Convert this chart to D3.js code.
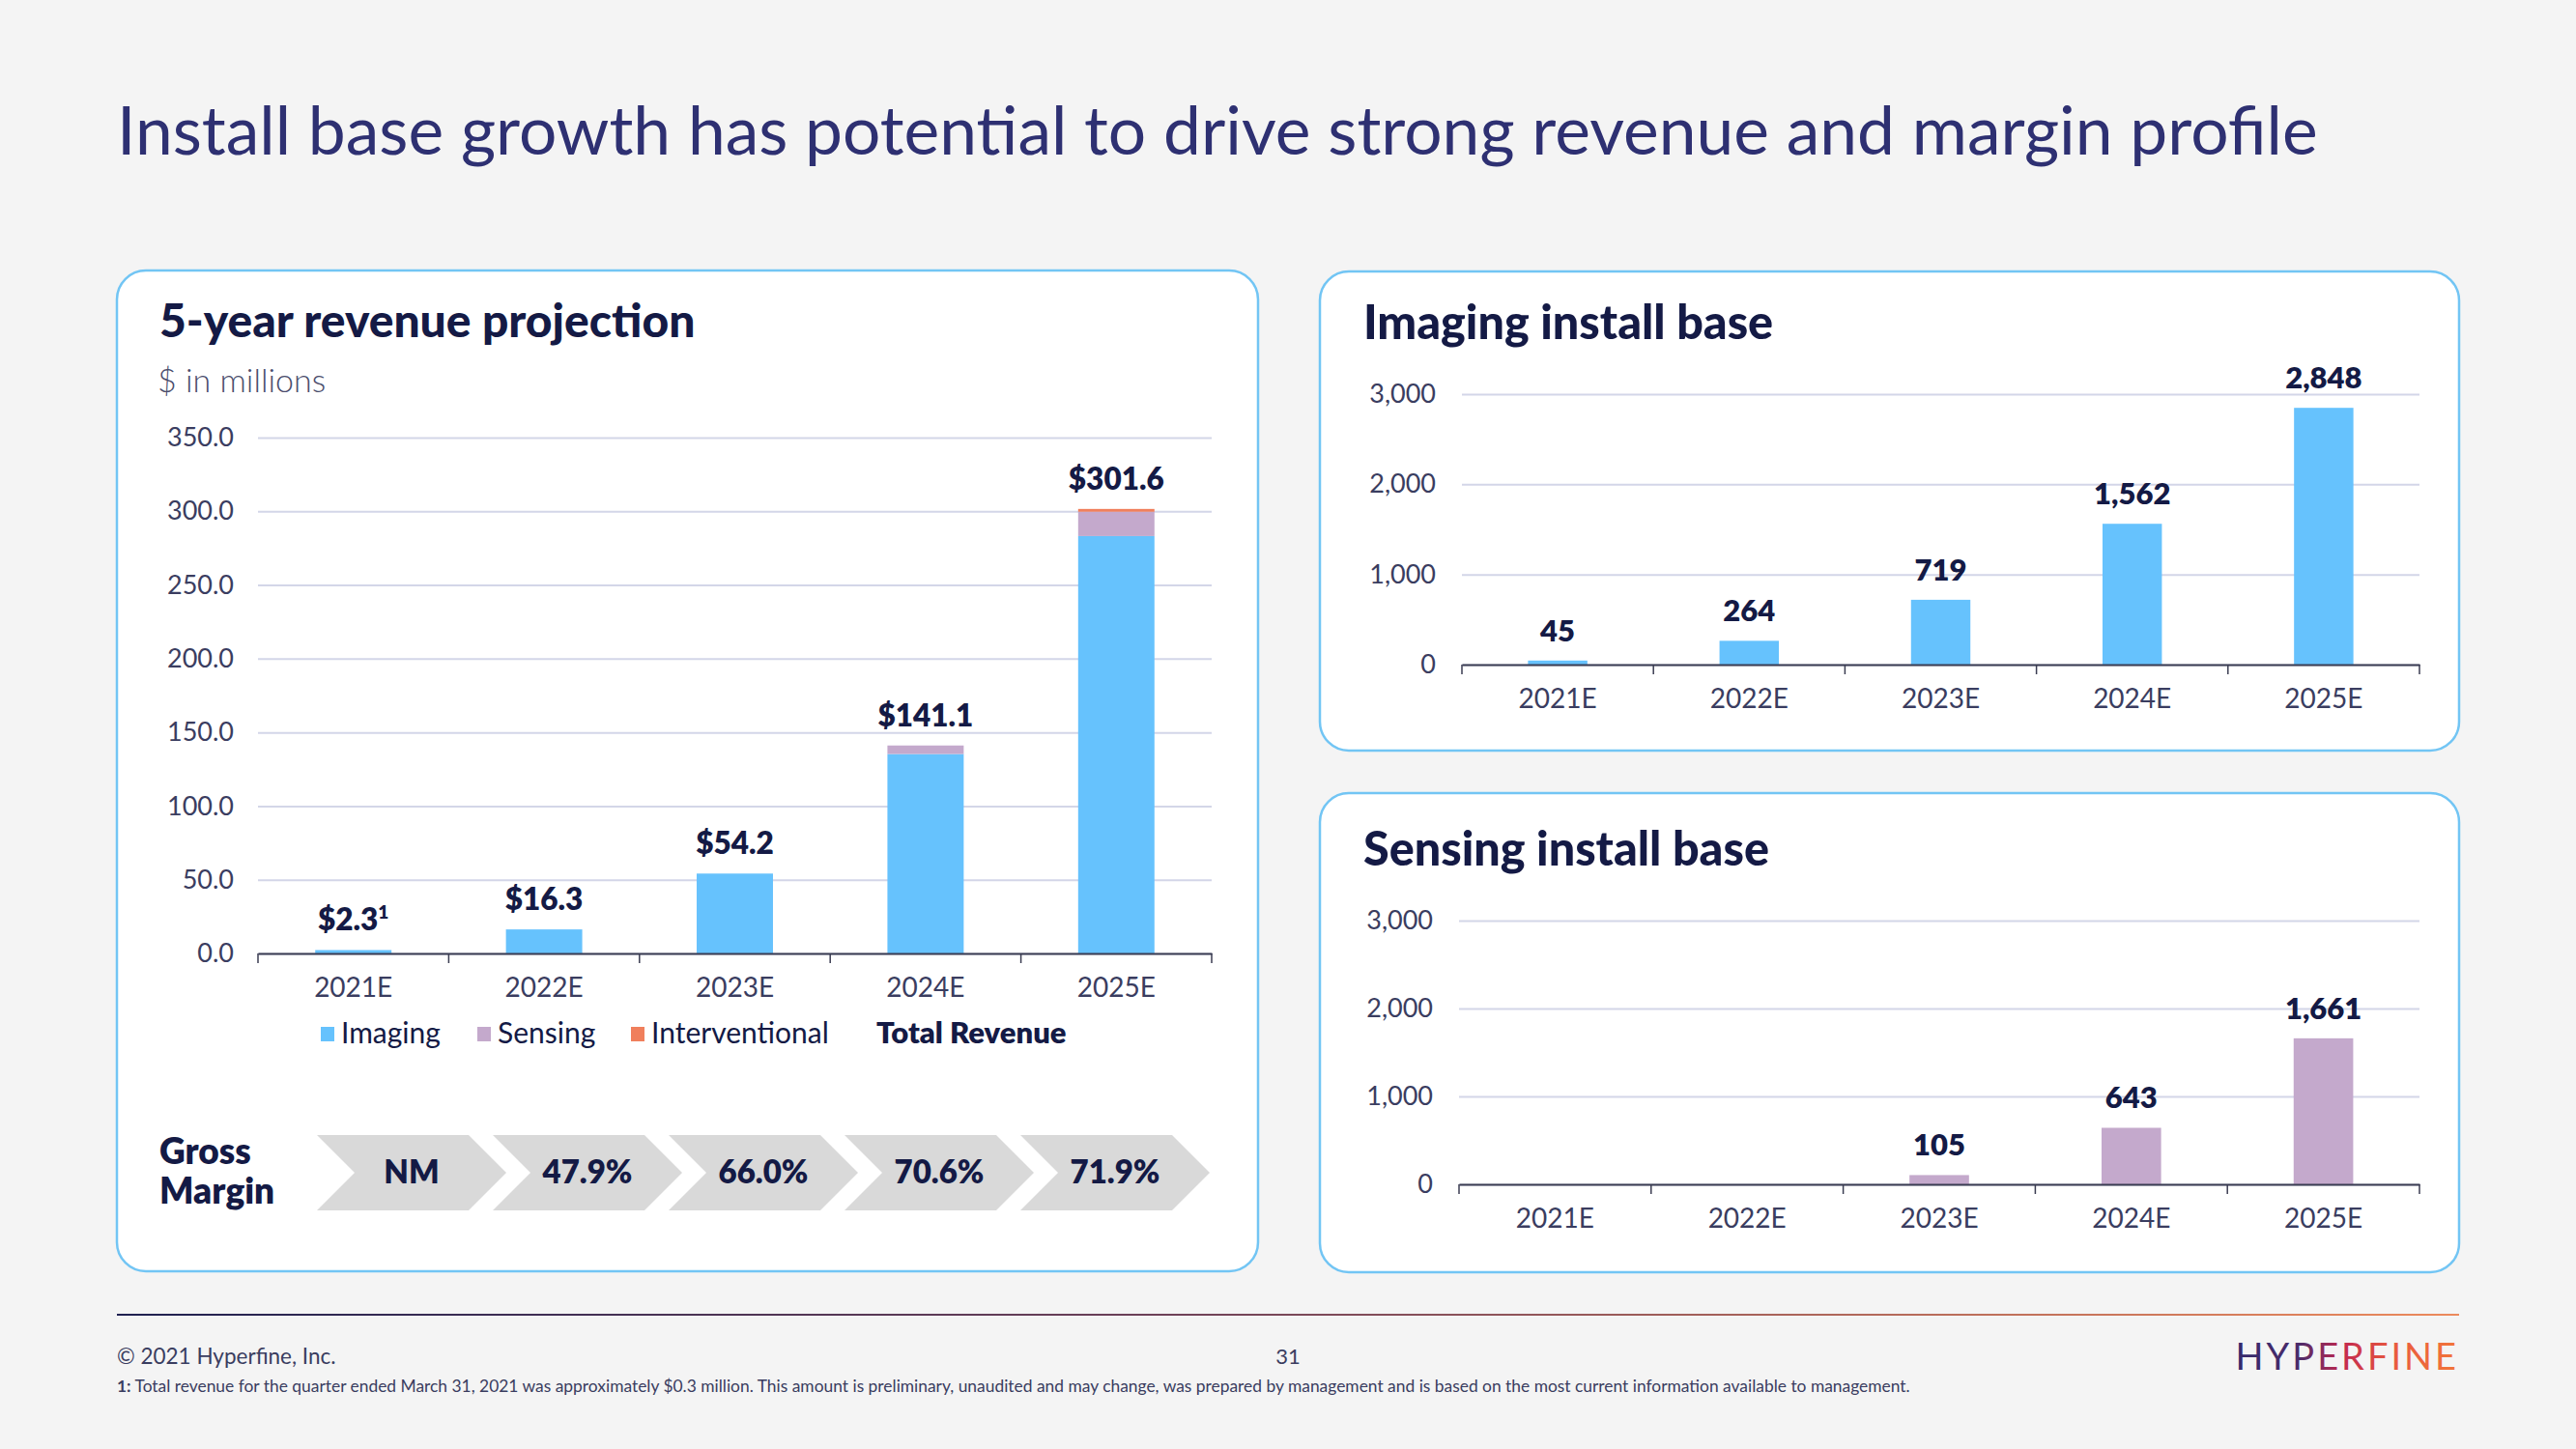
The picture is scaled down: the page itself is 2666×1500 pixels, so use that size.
<!DOCTYPE html>
<html><head><meta charset="utf-8">
<script src="https://cdn.jsdelivr.net/npm/d3@7"></script>
<style>
html,body{margin:0;padding:0;background:#f4f4f4;}
svg{display:block;font-family:Lato,"Noto Sans",sans-serif;}
</style></head>
<body>
<svg id="c" width="2666" height="1500"></svg>
<script>
// ---------- data ----------
const years = ["2021E","2022E","2023E","2024E","2025E"];
const imagingRev = [2.3, 16.3, 54.2, 135.3, 283.2];
const sensingRev = [0, 0, 0, 5.8, 16.5];
const interventionalRev = [0, 0, 0, 0, 1.9];
const totalRevLabels = ["$2.3", "$16.3", "$54.2", "$141.1", "$301.6"];
const totalRevNote = ["1", "", "", "", ""];
const revTicks = [0, 50, 100, 150, 200, 250, 300, 350];
const grossMargin = ["NM", "47.9%", "66.0%", "70.6%", "71.9%"];
const imagingBase = [45, 264, 719, 1562, 2848];
const sensingBase = [0, 0, 105, 643, 1661];
const baseTicks = [0, 1000, 2000, 3000];
const legendItems = ["Imaging", "Sensing", "Interventional"];

// ---------- styles ----------
const C = {
  bg: "#f4f4f4", card: "#ffffff", cardStroke: "#72c5f4",
  imaging: "#66c2fd", sensing: "#c4a9cc", interventional: "#f07f5c",
  navy: "#141a45", title: "#2e3072", tick: "#3a3d60", grid: "#d3d6e8",
  chevron: "#d9d9d9"
};

const svg = d3.select("#c");
svg.append("rect").attr("width", 2666).attr("height", 1500).attr("fill", C.bg);

const defs = svg.append("defs");
const lg = defs.append("linearGradient").attr("id", "footLine").attr("x1", "0%").attr("x2", "100%");
lg.append("stop").attr("offset", "0%").attr("stop-color", "#1f2150");
lg.append("stop").attr("offset", "45%").attr("stop-color", "#6e4158");
lg.append("stop").attr("offset", "100%").attr("stop-color", "#ec8a5c");
const lg2 = defs.append("linearGradient").attr("id", "logoGrad").attr("x1", "0%").attr("x2", "100%");
lg2.append("stop").attr("offset", "0%").attr("stop-color", "#35296b");
lg2.append("stop").attr("offset", "28%").attr("stop-color", "#4a2b6a");
lg2.append("stop").attr("offset", "48%").attr("stop-color", "#c2294f");
lg2.append("stop").attr("offset", "70%").attr("stop-color", "#e8593e");
lg2.append("stop").attr("offset", "100%").attr("stop-color", "#f2763a");

// main title
svg.append("text").attr("x", 121).attr("y", 160)
  .attr("font-size", 69.5).attr("font-weight", 400).attr("fill", C.title)
  .text("Install base growth has potential to drive strong revenue and margin profile");

// cards
function card(x, y, w, h) {
  svg.append("rect").attr("x", x).attr("y", y).attr("width", w).attr("height", h)
    .attr("rx", 30).attr("ry", 30).attr("fill", C.card)
    .attr("stroke", C.cardStroke).attr("stroke-width", 2.5);
}
card(121, 280, 1181, 1036);
card(1366, 281, 1179, 496);
card(1366, 821, 1179, 496);

// ---------- left: revenue chart ----------
svg.append("text").attr("x", 165).attr("y", 349).attr("font-size", 48).attr("font-weight", 900)
  .attr("fill", C.navy).text("5-year revenue projection");
svg.append("text").attr("x", 163).attr("y", 406).attr("font-size", 34).attr("font-weight", 300)
  .attr("fill", "#4a4d6c").text("$ in millions");

const xL = d3.scaleBand().domain(years).range([267, 1254]).paddingInner(0.6).paddingOuter(0.3);
const yL = d3.scaleLinear().domain([0, 350]).range([987, 453]);

// grid
const gGridL = svg.append("g").attr("transform", "translate(267,0)")
  .call(d3.axisLeft(yL).tickValues(revTicks).tickSize(-987).tickFormat(""));
gGridL.select(".domain").remove();
gGridL.selectAll("line").attr("stroke", C.grid).attr("stroke-width", 2);

const gYL = svg.append("g").attr("transform", "translate(242,0)")
  .call(d3.axisLeft(yL).tickValues(revTicks).tickSize(0).tickPadding(0).tickFormat(d3.format(".1f")));
gYL.select(".domain").remove();
gYL.selectAll("text").attr("font-size", 27).attr("fill", C.tick).attr("font-family", "Lato").attr("font-weight", 400);

const revTable = years.map((y, i) => ({year: y, Imaging: imagingRev[i], Sensing: sensingRev[i], Interventional: interventionalRev[i]}));
const stack = d3.stack().keys(legendItems)(revTable);
const colorOf = {Imaging: C.imaging, Sensing: C.sensing, Interventional: C.interventional};
svg.append("g").selectAll("g").data(stack).join("g").attr("fill", d => colorOf[d.key])
  .selectAll("rect").data(d => d).join("rect")
  .attr("x", d => xL(d.data.year)).attr("width", xL.bandwidth())
  .attr("y", d => yL(d[1])).attr("height", d => yL(d[0]) - yL(d[1]));

// x axis
function bottomAxis(xs, y0, boundaryTick) {
  const g = svg.append("g").attr("transform", `translate(0,${y0})`)
    .call(d3.axisBottom(xs).tickSize(0).tickPadding(0));
  g.select(".domain").attr("stroke", "#3b3d52").attr("stroke-width", 2);
  g.selectAll("text").remove();
  const r = xs.range();
  const n = xs.domain().length;
  const bounds = d3.range(n + 1).map(i => r[0] + i * (r[1] - r[0]) / n);
  g.selectAll("line.b").data(bounds).join("line").attr("class", "b")
    .attr("x1", d => d).attr("x2", d => d).attr("y1", 0).attr("y2", boundaryTick)
    .attr("stroke", "#3b3d52").attr("stroke-width", 1.5);
  return g;
}
bottomAxis(xL, 987, 10);
svg.append("g").selectAll("text").data(years).join("text")
  .attr("x", d => xL(d) + xL.bandwidth() / 2).attr("y", 1032).attr("text-anchor", "middle")
  .attr("font-size", 28).attr("fill", C.tick).text(d => d);

// total labels
const totals = revTable.map(d => d.Imaging + d.Sensing + d.Interventional);
const tl = svg.append("g").selectAll("text").data(years).join("text")
  .attr("x", d => xL(d) + xL.bandwidth() / 2).attr("y", (d, i) => yL(totals[i]) - 20)
  .attr("text-anchor", "middle").attr("font-size", 31.5).attr("font-weight", 800).attr("fill", C.navy);
tl.append("tspan").text((d, i) => totalRevLabels[i]);
tl.append("tspan").attr("font-size", 19).attr("dy", -12).text((d, i) => totalRevNote[i]);

// legend
const legX = [332, 494, 653];
const legG = svg.append("g");
legendItems.forEach((k, i) => {
  legG.append("rect").attr("x", legX[i]).attr("y", 1063).attr("width", 14).attr("height", 15).attr("fill", colorOf[k]);
  legG.append("text").attr("x", legX[i] + 21).attr("y", 1080).attr("font-size", 30).attr("fill", C.navy).attr("font-weight", 400).text(k);
});
legG.append("text").attr("x", 907).attr("y", 1080).attr("font-size", 31).attr("font-weight", 800).attr("fill", C.navy).text("Total Revenue");

// gross margin
svg.append("text").attr("x", 165).attr("y", 1205).attr("font-size", 37).attr("font-weight", 800).attr("fill", C.navy).text("Gross");
svg.append("text").attr("x", 165).attr("y", 1246).attr("font-size", 37).attr("font-weight", 800).attr("fill", C.navy).text("Margin");
const xC = d3.scalePoint().domain(years).range([328, 1056]);
const chW = 196, chD = 39, chT = 1175, chB = 1253, chM = (chT + chB) / 2;
svg.append("g").selectAll("path").data(years).join("path")
  .attr("d", d => { const x = xC(d); return `M${x},${chT}L${x + chW - chD},${chT}L${x + chW},${chM}L${x + chW - chD},${chB}L${x},${chB}L${x + chD},${chM}Z`; })
  .attr("fill", C.chevron);
svg.append("g").selectAll("text").data(years).join("text")
  .attr("x", d => xC(d) + chW / 2).attr("y", chM + 11).attr("text-anchor", "middle")
  .attr("font-size", 33).attr("font-weight", 800).attr("fill", C.navy)
  .text((d, i) => grossMargin[i]);

// ---------- right panels ----------
function installChart(title, titleY, vals, color, x0, x1, yZero, yTop) {
  svg.append("text").attr("x", 1411).attr("y", titleY).attr("font-size", 48.5).attr("font-weight", 900)
    .attr("fill", C.navy).text(title);
  const xs = d3.scaleBand().domain(years).range([x0, x1]).paddingInner(0.69).paddingOuter(0.345);
  const ys = d3.scaleLinear().domain([0, 3000]).range([yZero, yTop]);
  const gg = svg.append("g").attr("transform", `translate(${x0},0)`)
    .call(d3.axisLeft(ys).tickValues(baseTicks).tickSize(-(x1 - x0)).tickFormat(""));
  gg.select(".domain").remove();
  gg.selectAll("line").attr("stroke", C.grid).attr("stroke-width", 2);
  const gy = svg.append("g").attr("transform", `translate(${x0 - 27},0)`)
    .call(d3.axisLeft(ys).tickValues(baseTicks).tickSize(0).tickPadding(0).tickFormat(d3.format(",")));
  gy.select(".domain").remove();
  gy.selectAll("text").attr("font-size", 27).attr("fill", C.tick).attr("font-family", "Lato");
  svg.append("g").selectAll("rect").data(years).join("rect")
    .attr("x", d => xs(d)).attr("width", xs.bandwidth())
    .attr("y", (d, i) => ys(vals[i])).attr("height", (d, i) => yZero - ys(vals[i]))
    .attr("fill", color);
  bottomAxis(xs, yZero, 10);
  svg.append("g").selectAll("text").data(years).join("text")
    .attr("x", d => xs(d) + xs.bandwidth() / 2).attr("y", yZero + 45).attr("text-anchor", "middle")
    .attr("font-size", 28).attr("fill", C.tick).text(d => d);
  svg.append("g").selectAll("text").data(years.filter((d, i) => vals[i] > 0)).join("text")
    .attr("x", d => xs(d) + xs.bandwidth() / 2)
    .attr("y", d => ys(vals[years.indexOf(d)]) - 20)
    .attr("text-anchor", "middle").attr("font-size", 31).attr("font-weight", 800).attr("fill", C.navy)
    .text(d => d3.format(",")(vals[years.indexOf(d)]));
}
installChart("Imaging install base", 351, imagingBase, C.imaging, 1513, 2504, 688, 408);
installChart("Sensing install base", 896, sensingBase, C.sensing, 1510, 2504, 1226, 953);

// ---------- footer ----------
svg.append("rect").attr("x", 121).attr("y", 1360).attr("width", 2424).attr("height", 2).attr("fill", "url(#footLine)");
svg.append("text").attr("x", 121).attr("y", 1412).attr("font-size", 22.5).attr("fill", "#3a3d60").text("© 2021 Hyperfine, Inc.");
svg.append("text").attr("x", 1333).attr("y", 1412).attr("text-anchor", "middle").attr("font-size", 22).attr("fill", "#3a3d60").text("31");
const fn = svg.append("text").attr("x", 121).attr("y", 1441).attr("font-size", 17.4).attr("fill", "#3a3d60");
fn.append("tspan").attr("font-weight", 700).text("1:");
fn.append("tspan").text(" Total revenue for the quarter ended March 31, 2021 was approximately $0.3 million. This amount is preliminary, unaudited and may change, was prepared by management and is based on the most current information available to management.");
svg.append("text").attr("x", 2545).attr("y", 1418).attr("text-anchor", "end").attr("font-size", 38)
  .attr("letter-spacing", 3).attr("font-weight", 400).attr("fill", "url(#logoGrad)").text("HYPERFINE");
</script>
</body></html>
